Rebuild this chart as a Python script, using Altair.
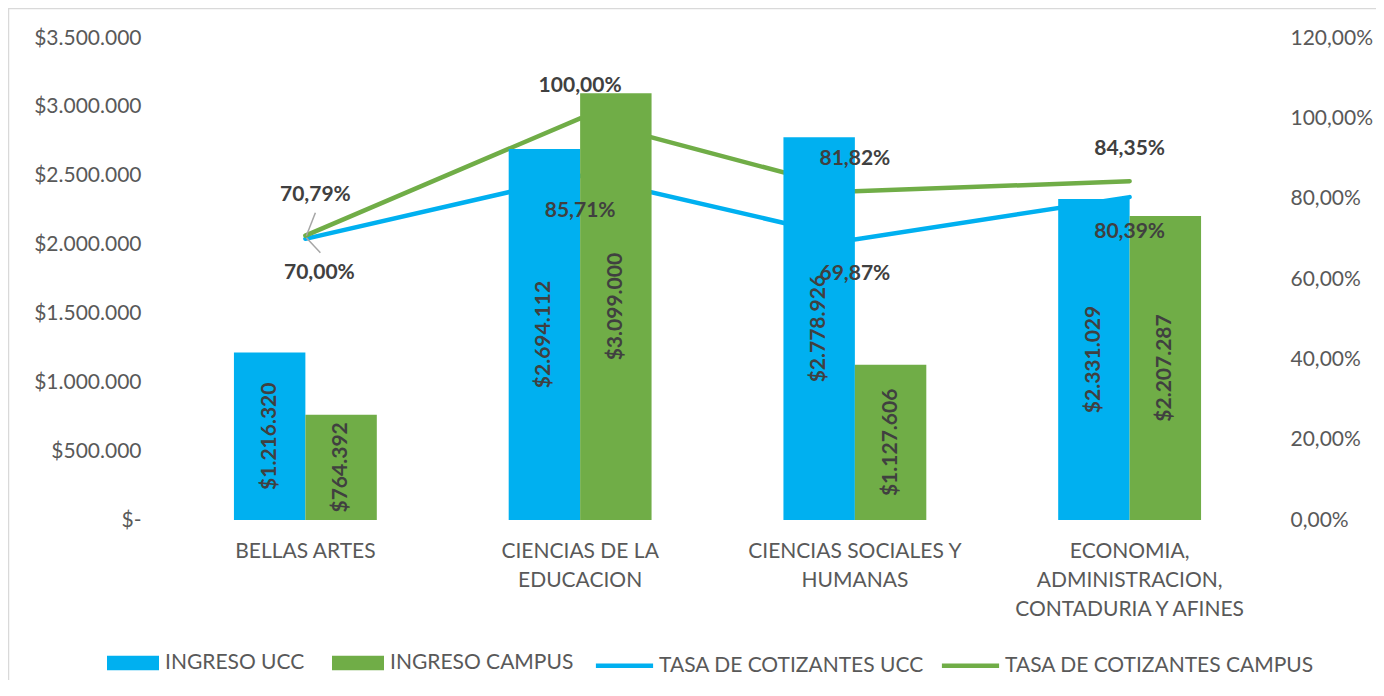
import json
import altair as alt
import pandas as pd

categories = [
    "BELLAS ARTES",
    "CIENCIAS DE LA EDUCACION",
    "CIENCIAS SOCIALES Y HUMANAS",
    "ECONOMIA, ADMINISTRACION, CONTADURIA Y AFINES",
]
category_lines = [
    ["BELLAS ARTES"],
    ["CIENCIAS DE LA", "EDUCACION"],
    ["CIENCIAS SOCIALES Y", "HUMANAS"],
    ["ECONOMIA,", "ADMINISTRACION,", "CONTADURIA Y AFINES"],
]
ingreso_ucc = [1216320, 2694112, 2778926, 2331029]
ingreso_campus = [764392, 3099000, 1127606, 2207287]
tasa_ucc = [0.7000, 0.8571, 0.6987, 0.8039]
tasa_campus = [0.7079, 1.0000, 0.8182, 0.8435]

bar_series = ["INGRESO UCC", "INGRESO CAMPUS"]
line_series = ["TASA DE COTIZANTES UCC", "TASA DE COTIZANTES CAMPUS"]
blue = "#00B0F0"
green = "#70AD47"

left_ticks = [0, 500000, 1000000, 1500000, 2000000, 2500000, 3000000, 3500000]
right_ticks = [0, 0.2, 0.4, 0.6, 0.8, 1.0, 1.2]

FONT = "Lato"
LABEL_COLOR = "#595959"
DATA_COLOR = "#404040"
LEADER = "#A6A6A6"
FS = 21


def money(v):
    return "$" + f"{v:,}".replace(",", ".")


def pct(v):
    return f"{v * 100:.2f}%".replace(".", ",")


rows = []
for i, c in enumerate(categories):
    for s, vals in zip(bar_series, [ingreso_ucc, ingreso_campus]):
        rows.append({"cat": c, "serie": s, "valor": vals[i], "mid": vals[i] / 2, "txt": money(vals[i])})
bars_df = pd.DataFrame(rows)

rows = []
for i, c in enumerate(categories):
    for s, vals in zip(line_series, [tasa_ucc, tasa_campus]):
        rows.append({"cat": c, "serie": s, "tasa": vals[i], "txt": pct(vals[i])})
lines_df = pd.DataFrame(rows)

# multi-line category labels
expr = "datum.label"
for c, lines in reversed(list(zip(categories, category_lines))):
    expr = f"datum.label == {json.dumps(c)} ? {json.dumps(lines)} : ({expr})"

x_enc = alt.X(
    "cat:N",
    sort=categories,
    scale=alt.Scale(domain=categories, paddingInner=0.48, paddingOuter=0.24),
    axis=alt.Axis(
        title=None, labelAngle=0, domain=False, ticks=False, labelExpr=expr,
        labelPadding=20, labelLineHeight=29, labelFontSize=FS, labelFont=FONT,
        labelColor=LABEL_COLOR, labelLimit=400,
    ),
)

xoff = alt.XOffset("serie:N", sort=bar_series,
                   scale=alt.Scale(domain=bar_series, paddingInner=0, paddingOuter=0))

common_legend = dict(
    title=None, orient="none", legendY=599, direction="horizontal",
    symbolSize=2704, labelFontSize=FS, labelFont=FONT, labelColor=LABEL_COLOR,
    labelOffset=6, labelLimit=500,
)

fill_enc = alt.Fill(
    "serie:N", sort=bar_series,
    scale=alt.Scale(domain=bar_series, range=[blue, green]),
    legend=alt.Legend(legendX=-61, symbolType="M-1,-0.28H1V0.28H-1Z",
                      symbolStrokeWidth=0, columnPadding=27, **common_legend),
)
stroke_enc = alt.Stroke(
    "serie:N", sort=line_series,
    scale=alt.Scale(domain=line_series, range=[blue, green]),
    legend=alt.Legend(legendX=428, symbolType="M-1.1,0H1.1",
                      symbolStrokeWidth=4.5, columnPadding=8, **common_legend),
)

y_left_scale = alt.Scale(domain=[0, 3500000])
y_right_scale = alt.Scale(domain=[0, 1.2])

border = alt.Chart(pd.DataFrame({"k": [0]})).mark_rect(
    filled=False, stroke="#D9D9D9", strokeWidth=1.5
).encode(
    x=alt.value(-159.5), x2=alt.value(1400), y=alt.value(-29.5), y2=alt.value(800)
)

lines = alt.Chart(lines_df).mark_line(strokeWidth=4.5, strokeCap="round").encode(
    x=x_enc,
    y=alt.Y("tasa:Q", scale=y_right_scale, axis=alt.Axis(
        orient="right", title=None, values=right_ticks, grid=False, domain=False, ticks=False,
        labelExpr="replace(format(datum.value, '.2%'), '.', ',')", labelPadding=23,
        labelFontSize=FS, labelFont=FONT, labelColor=LABEL_COLOR)),
    stroke=stroke_enc,
)

bars = alt.Chart(bars_df).mark_bar().encode(
    x=x_enc,
    xOffset=xoff,
    y=alt.Y("valor:Q", scale=y_left_scale, axis=alt.Axis(
        orient="left", title=None, values=left_ticks, domain=False, ticks=False,
        gridColor="#D9D9D9", gridWidth=1.5,
        labelExpr="datum.value == 0 ? '$-' : '$' + replace(format(datum.value, ',.0f'), regexp(',', 'g'), '.')",
        labelPadding=27, labelFontSize=FS, labelFont=FONT, labelColor=LABEL_COLOR)),
    fill=fill_enc,
)

bar_labels = alt.Chart(bars_df).mark_text(
    angle=270, font=FONT, fontSize=FS, fontWeight="bold", color=DATA_COLOR,
    align="center", baseline="middle"
).encode(
    x=x_enc,
    xOffset=xoff,
    y=alt.Y("mid:Q", scale=y_left_scale, axis=None),
    text="txt:N",
)


def line_labels(serie, first, dx, dy):
    test = (alt.datum.cat == categories[0]) if first else (alt.datum.cat != categories[0])
    return alt.Chart(lines_df).transform_filter(
        (alt.datum.serie == serie) & test
    ).mark_text(font=FONT, fontSize=FS, fontWeight="bold", color=DATA_COLOR,
                align="center", baseline="middle", dx=dx, dy=dy).encode(
        x=x_enc,
        y=alt.Y("tasa:Q", scale=y_right_scale, axis=None),
        text="txt:N",
    )


def leader(serie, x0, y0, x1, y1):
    return alt.Chart(lines_df).transform_filter(
        (alt.datum.serie == serie) & (alt.datum.cat == categories[0])
    ).mark_rule(color=LEADER, strokeWidth=1.5,
                xOffset=x0, yOffset=y0, x2Offset=x1, y2Offset=y1).encode(
        x=x_enc,
        x2=alt.X2("cat"),
        y=alt.Y("tasa:Q", scale=y_right_scale, axis=None),
        y2=alt.Y2("tasa"),
    )


layers = [
    border, lines, bars, bar_labels,
    leader(line_series[1], 10, -23, 1, 0),
    leader(line_series[0], 1, -1, 15, 14),
    line_labels(line_series[1], False, 0, -32),
    line_labels(line_series[0], False, 0, 35),
    line_labels(line_series[1], True, 10, -41),
    line_labels(line_series[0], True, 14, 34),
]

chart = alt.layer(*layers).resolve_scale(
    y="independent"
).properties(
    width=1099,
    height=482,
    padding={"left": 160, "top": 30, "right": 109, "bottom": 160},
    autosize=alt.AutoSizeParams(type="none"),
    background="white",
).configure_view(stroke="transparent")

chart.save("out.html", embed_options={"renderer": "svg", "actions": False})
